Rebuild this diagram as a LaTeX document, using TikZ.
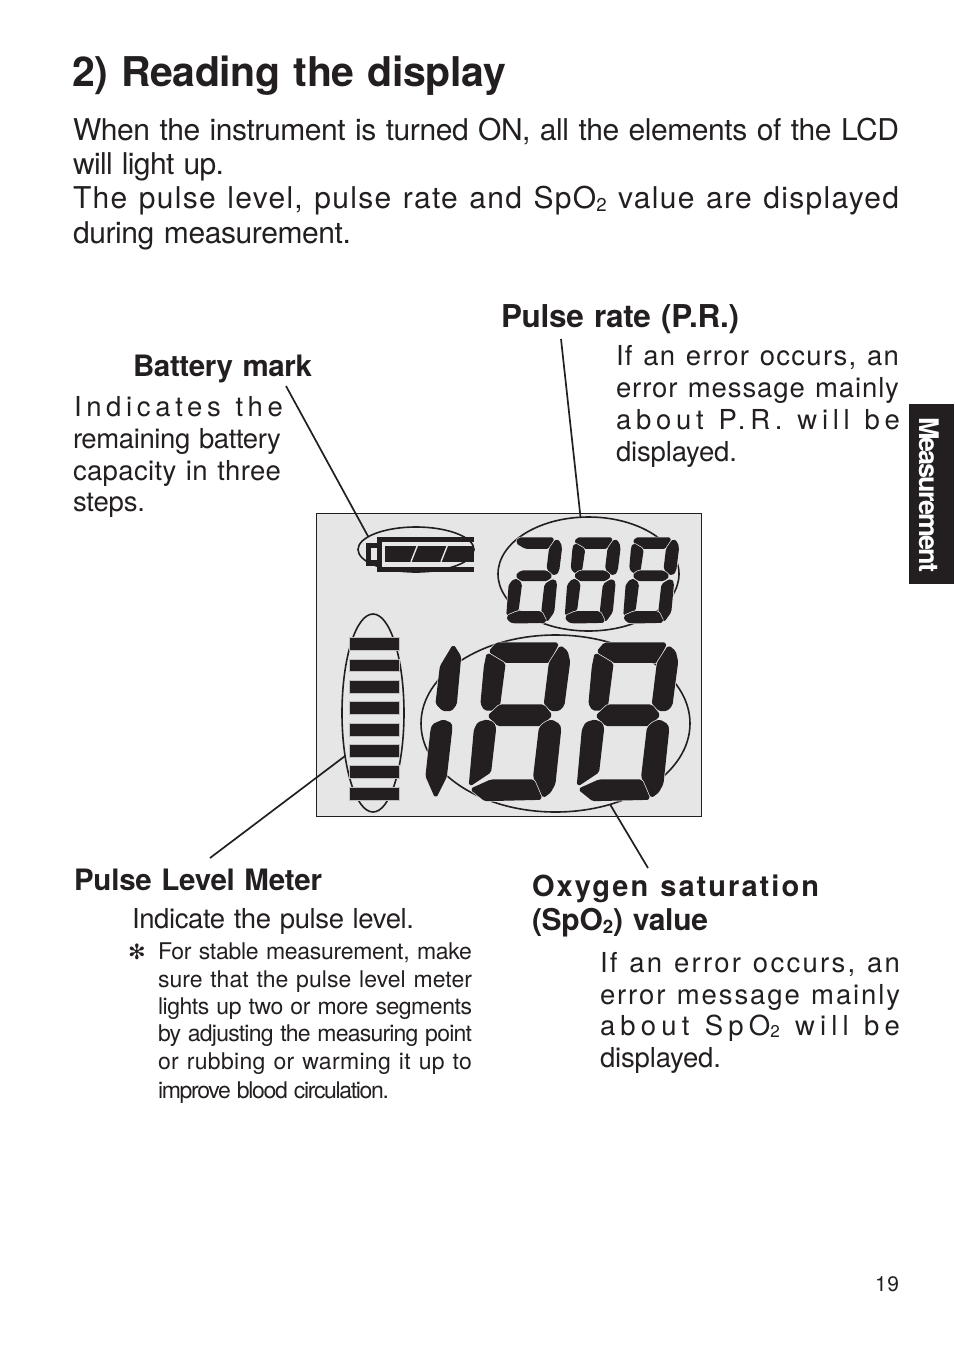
\documentclass[tikz,border=0pt]{standalone}
\usepackage{fontspec}
\setmainfont[WordSpace=1.2]{TeX Gyre Heros}
\newfontfamily\symfont{DejaVu Sans}
\usetikzlibrary{shapes.geometric}
\definecolor{ink}{HTML}{231F20}
\definecolor{lcd}{HTML}{E6E6E6}
\newsavebox\tlA
\newsavebox\tlB
\newcounter{tlc}
\newcommand\tlsize{10}
\newcommand\subt[1]{\raisebox{-0.1em}{\fontsize{\the\dimexpr 0.62\dimexpr\tlsize pt\relax\relax}{1pt}\selectfont #1}}
% \tl[node options]{weight}{x}{baseline y}{width}{size}{text}: one printed line, spaced to its printed width
\newcommand\tl[7][]{%
  \renewcommand\tlsize{#6}%
  \pgfinterruptpicture
  \global\setbox\tlA\hbox{\fontsize{#6}{#6}\selectfont #2\addfontfeature{LetterSpace=1}#7}%
  \global\setbox\tlB\hbox{\fontsize{#6}{#6}\selectfont #2\addfontfeature{LetterSpace=11}#7}%
  \endpgfinterruptpicture
  \pgfmathsetmacro\tlls{1+10*(#5-\the\wd\tlA)/(\the\wd\tlB-\the\wd\tlA)}%
  \stepcounter{tlc}%
  \node[txt,#1] (line\thetlc) at (#3,#4) {\fontsize{#6}{#6}\selectfont #2\addfontfeature{LetterSpace=\tlls}#7};%
}
\newcommand\segwd{2.4pt}
\newcommand\seghalo{3.8pt}
\newcommand\seg[1]{%
  \draw[lcd,line width=\seghalo,rounded corners=1.6pt,line join=round] #1 -- cycle;
  \fill[ink,draw=ink,line width=\segwd,rounded corners=1.6pt,line join=round] #1 -- cycle;}
\newcommand\smalldigit[2]{% x offset, with-upper-left flag
  \begin{scope}[shift={(#1,515)},x=0.3333pt,y=-0.3333pt]
    \seg{(262,71) -- (366,71) -- (350,98) -- (282,98) -- (257,83)}
    \ifnum#2=1 \seg{(255,88) -- (282,104) -- (273,165) -- (262,173) -- (250,167) -- (246,158) -- (251,100)}\fi
    \seg{(375,75) -- (385,85) -- (388,100) -- (380,165) -- (372,178) -- (358,172) -- (349,160) -- (356,102)}
    \seg{(255,182) -- (270,170) -- (345,170) -- (360,183) -- (345,195) -- (270,195)}
    \seg{(249,195) -- (258,196) -- (268,207) -- (258,285) -- (228,300) -- (235,210)}
    \seg{(356,200) -- (368,195) -- (373,205) -- (365,290) -- (345,318) -- (333,290) -- (342,210)}
    \seg{(228,305) -- (258,292) -- (328,292) -- (342,320) -- (250,322) -- (235,318)}
  \end{scope}}
\newcommand\bigdigit[1]{%
  \begin{scope}[shift={(#1,630)},x=0.3333pt,y=-0.3333pt]
    \seg{(225,65) -- (245,41) -- (428,41) -- (402,95) -- (270,95)}
    \seg{(218,72) -- (268,102) -- (252,225) -- (235,238) -- (210,238) -- (200,220) -- (210,110)}
    \seg{(437,50) -- (455,65) -- (462,95) -- (445,225) -- (430,240) -- (410,240) -- (390,222) -- (405,100)}
    \seg{(222,258) -- (255,227) -- (385,227) -- (408,255) -- (380,285) -- (250,285)}
    \seg{(215,272) -- (235,280) -- (240,295) -- (225,425) -- (165,465) -- (180,300) -- (190,280)}
    \seg{(410,272) -- (432,285) -- (435,300) -- (418,460) -- (405,485) -- (385,500) -- (358,440) -- (375,295) -- (390,280)}
    \seg{(170,478) -- (228,452) -- (355,452) -- (378,506) -- (210,510)}
  \end{scope}}
\tikzset{
  txt/.style={anchor=base west,inner sep=0pt,outer sep=0pt,text=ink},
  ring/.style={ellipse,draw=ink,line width=1.6pt,inner sep=0pt,outer sep=0pt},
  leader/.style={draw=ink,line width=1.7pt},
  levelbar/.style={fill=ink,draw=black!25,line width=.5pt}
}
\begin{document}
\begin{tikzpicture}[x=1pt,y=-1pt]
\useasboundingbox (0,0) rectangle (954,1345);
% heading and intro
\tl{\bfseries}{72}{86}{434}{41}{2) Reading the display}
\tl{}{73}{140}{826}{30}{When the instrument is turned ON, all the elements of the LCD}
\tl{}{73}{174}{151}{30}{will light up.}
\tl{}{73}{208}{826}{30}{The pulse level, pulse rate and SpO\subt{2} value are displayed}
\tl{}{73}{243}{278}{30}{during measurement.}
% pulse rate
\tl{\bfseries}{501}{327}{238}{31.5}{Pulse rate (P.R.)}
\tl{}{616}{365}{283}{27.5}{If an error occurs, an}
\tl{}{616}{397}{283}{27.5}{error message mainly}
\tl{}{616}{429}{284}{27.5}{about P.R. will be}
\tl{}{616}{461}{121}{27.5}{displayed.}
% battery
\tl{\bfseries}{133}{376}{179}{29.5}{Battery mark}
\tl{}{74}{416}{209}{27.5}{Indicates the}
\tl{}{73}{448}{208}{27.5}{remaining battery}
\tl{}{73}{480}{208}{27.5}{capacity in three}
\tl{}{73}{511}{72}{27.5}{steps.}
% LCD panel
\node[draw=ink,fill=lcd,line width=.8pt,minimum width=385pt,minimum height=303pt,inner sep=0pt,outer sep=0pt] (panel) at (508.5,664.5) {};
% battery icon
\fill[ink] (376.7,536.7) rectangle (474.3,572.3);
\fill[ink] (366,543.3) rectangle (376.7,565.7);
\fill[lcd] (381.7,542.3) rectangle (474.3,566.7);
\fill[lcd] (371,548.3) rectangle (377,560);
\fill[ink] (385,545.7) rectangle (474,561.7);
\draw[lcd,line width=1.4pt] (417.3,545.7) -- (411,561.7);
\draw[lcd,line width=1.4pt] (447.3,545.7) -- (441,561.7);
% rings
\node[ring,minimum width=116pt,minimum height=45pt] (ringbat) at (416,549.5) {};
\node[ring,minimum width=181pt,minimum height=114pt] (ringrate) at (588.5,574) {};
\node[ring,minimum width=269pt,minimum height=177pt] (ringspo) at (555.5,723.5) {};
\node[ring,minimum width=62pt,minimum height=198pt] (ringlevel) at (373,713) {};
% level bars
\foreach \a/\b in {637.7/650.3,659.3/671.7,680.7/693.3,701.7/714.3,723.3/736,744.7/757.3,765.7/778.3,787.3/800.3}
  \draw[levelbar] (349,\a) rectangle (399,\b);
% small digits
\smalldigit{431.5}{0}
\smalldigit{490}{1}
\smalldigit{548.5}{1}
% big digits
\begin{scope}[shift={(415,630)},x=0.3333pt,y=-0.3333pt]
  \seg{(115,48) -- (135,80) -- (122,222) -- (108,240) -- (85,240) -- (65,220) -- (78,110)}
  \seg{(85,272) -- (108,282) -- (108,300) -- (92,440) -- (62,500) -- (35,438) -- (50,300) -- (55,285)}
\end{scope}
\bigdigit{415}
\bigdigit{523}
% leaders
\coordinate (batend) at (286,386);
\coordinate (rateend) at (561,339);
\coordinate (levelend) at (210,858);
\coordinate (spoend) at (648,868);
\draw[leader] (batend) -- (ringbat.165);
\draw[leader] (rateend) -- (ringrate.98.5);
\draw[leader] (levelend) -- (ringlevel.237.5);
\draw[leader] (spoend) -- (ringspo.-56);
% pulse level text
\tl{\bfseries}{74}{890}{248}{29.5}{Pulse Level Meter}
\tl{}{132}{928}{282}{27.5}{Indicate the pulse level.}
\node[txt,font=\symfont\fontsize{21}{21}\selectfont] (star) at (128,959) {✻};
\tl{}{158}{959}{314}{23}{For stable measurement, make}
\tl{}{158}{987}{314}{23}{sure that the pulse level meter}
\tl{}{158}{1014}{314}{23}{lights up two or more segments}
\tl{}{158}{1041}{314}{23}{by adjusting the measuring point}
\tl{}{158}{1069}{314}{23}{or rubbing or warming it up to}
\tl{}{158}{1098}{231}{23}{improve blood circulation.}
% oxygen text
\tl{\bfseries}{532}{896}{287}{29}{Oxygen saturation}
\tl{\bfseries}{532}{930}{176}{30}{(SpO\subt{2}) value}
\tl{}{600}{972}{300}{27.5}{If an error occurs, an}
\tl{}{600}{1004}{300}{27.5}{error message mainly}
\tl{}{600}{1035}{300}{27.5}{about SpO\subt{2} will be}
\tl{}{600}{1067}{121}{27.5}{displayed.}
% page number
\tl{}{875}{1291}{24}{21}{19}
% side tab
\node[fill=ink,minimum width=45pt,minimum height=180pt,inner sep=0pt,outer sep=0pt] (tab) at (931.5,494) {};
\tl[rotate=-90,text=white]{\bfseries}{919}{417}{155}{27}{Measurement}
\end{tikzpicture}
\end{document}
